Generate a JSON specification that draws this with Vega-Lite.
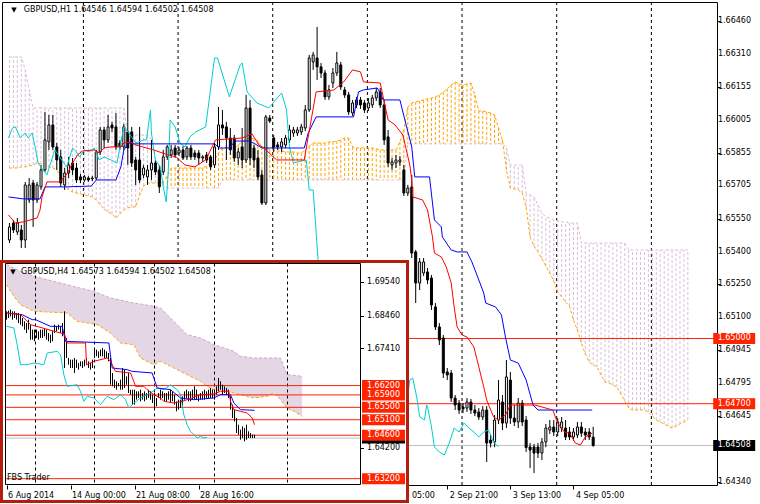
{
"$schema":"https://vega.github.io/schema/vega-lite/v6.json",
"width":715,"height":483,
"autosize":{"type":"none"},
"padding":{"left":2,"top":2,"right":43,"bottom":19},
"background":"#ffffff",
"config":{"view":{"stroke":"#000000","strokeWidth":1},"font":"DejaVu Sans","axis":{"labelFont":"DejaVu Sans","labelFontSize":8,"labelColor":"#000000","tickColor":"#000000","grid":false,"domain":false,"title":null,"labelOverlap":false,"labelFlush":false,"labelBound":false}},
"datasets":{
"m":[
{"i":1,"o":1.65453,"h":1.65531,"l":1.65439,"c":1.65513,"a":1.65784,"b":1.66295},
{"i":2,"o":1.65531,"h":1.65545,"l":1.65485,"c":1.65499,"a":1.65784,"b":1.66295},
{"i":3,"o":1.6549,"h":1.65554,"l":1.65476,"c":1.65531,"a":1.65784,"b":1.66295},
{"i":4,"o":1.65499,"h":1.65522,"l":1.65416,"c":1.65453,"a":1.65789,"b":1.66295},
{"i":5,"o":1.65453,"h":1.6572,"l":1.65416,"c":1.65706,"a":1.65789,"b":1.66235},
{"i":6,"o":1.65637,"h":1.65738,"l":1.65623,"c":1.65706,"a":1.65793,"b":1.66143},
{"i":7,"o":1.65715,"h":1.65729,"l":1.65513,"c":1.65637,"a":1.65798,"b":1.6606},
{"i":8,"o":1.65637,"h":1.6572,"l":1.65623,"c":1.65706,"a":1.65807,"b":1.6606},
{"i":9,"o":1.65697,"h":1.65798,"l":1.65683,"c":1.65775,"a":1.65803,"b":1.6606},
{"i":10,"o":1.65775,"h":1.66042,"l":1.65766,"c":1.65913,"a":1.65793,"b":1.6606},
{"i":11,"o":1.65904,"h":1.66028,"l":1.65867,"c":1.65982,"a":1.65789,"b":1.6606},
{"i":12,"o":1.65982,"h":1.66028,"l":1.65867,"c":1.65881,"a":1.65784,"b":1.6606},
{"i":13,"o":1.65881,"h":1.65899,"l":1.65775,"c":1.65821,"a":1.65775,"b":1.6606},
{"i":14,"o":1.65835,"h":1.65867,"l":1.65697,"c":1.65715,"a":1.65747,"b":1.6606},
{"i":15,"o":1.65706,"h":1.65784,"l":1.65683,"c":1.65761,"a":1.65711,"b":1.6606},
{"i":16,"o":1.65761,"h":1.65835,"l":1.65738,"c":1.65798,"a":1.65683,"b":1.6606},
{"i":17,"o":1.65807,"h":1.6583,"l":1.65752,"c":1.65775,"a":1.65674,"b":1.6606},
{"i":18,"o":1.65784,"h":1.65807,"l":1.65715,"c":1.65729,"a":1.65669,"b":1.6606},
{"i":19,"o":1.65743,"h":1.65757,"l":1.65715,"c":1.65729,"a":1.65665,"b":1.6606},
{"i":20,"o":1.65729,"h":1.65752,"l":1.6572,"c":1.65743,"a":1.6566,"b":1.6606},
{"i":21,"o":1.65738,"h":1.65747,"l":1.6572,"c":1.65729,"a":1.65655,"b":1.6606},
{"i":22,"o":1.65734,"h":1.65747,"l":1.65724,"c":1.65738,"a":1.65651,"b":1.6606},
{"i":23,"o":1.65738,"h":1.65867,"l":1.65729,"c":1.65858,"a":1.65637,"b":1.6606},
{"i":24,"o":1.65858,"h":1.65973,"l":1.65844,"c":1.65959,"a":1.65614,"b":1.6606},
{"i":25,"o":1.65959,"h":1.65973,"l":1.65876,"c":1.65913,"a":1.65596,"b":1.6606},
{"i":26,"o":1.65913,"h":1.66028,"l":1.65899,"c":1.65973,"a":1.65582,"b":1.6606},
{"i":27,"o":1.65982,"h":1.65996,"l":1.6595,"c":1.65968,"a":1.65573,"b":1.6606},
{"i":28,"o":1.65973,"h":1.66037,"l":1.65867,"c":1.65881,"a":1.65554,"b":1.6606},
{"i":29,"o":1.65899,"h":1.65913,"l":1.65867,"c":1.65881,"a":1.65573,"b":1.6606},
{"i":30,"o":1.65881,"h":1.65987,"l":1.65867,"c":1.65973,"a":1.65591,"b":1.6606},
{"i":31,"o":1.6595,"h":1.6612,"l":1.65798,"c":1.65876,"a":1.656,"b":1.65936},
{"i":32,"o":1.6595,"h":1.65973,"l":1.65789,"c":1.65807,"a":1.65605,"b":1.65936},
{"i":33,"o":1.65821,"h":1.65835,"l":1.65706,"c":1.65775,"a":1.65605,"b":1.65936},
{"i":34,"o":1.65821,"h":1.65973,"l":1.65715,"c":1.65729,"a":1.6566,"b":1.65936},
{"i":35,"o":1.65752,"h":1.65798,"l":1.65738,"c":1.65784,"a":1.65701,"b":1.65936},
{"i":36,"o":1.65743,"h":1.65798,"l":1.65706,"c":1.65775,"a":1.65715,"b":1.65936},
{"i":37,"o":1.65775,"h":1.65913,"l":1.65729,"c":1.65807,"a":1.65715,"b":1.65913},
{"i":38,"o":1.65807,"h":1.65821,"l":1.65752,"c":1.65766,"a":1.65715,"b":1.65821},
{"i":39,"o":1.65775,"h":1.65798,"l":1.65669,"c":1.65697,"a":1.65715,"b":1.65729},
{"i":40,"o":1.65766,"h":1.65867,"l":1.65752,"c":1.65835,"a":1.6572,"b":1.65701},
{"i":41,"o":1.65835,"h":1.6589,"l":1.65821,"c":1.65881,"a":1.65747,"b":1.65692},
{"i":42,"o":1.65844,"h":1.6589,"l":1.6583,"c":1.65867,"a":1.65784,"b":1.65692},
{"i":43,"o":1.65876,"h":1.6589,"l":1.6583,"c":1.65844,"a":1.65784,"b":1.65692},
{"i":44,"o":1.65853,"h":1.65881,"l":1.65839,"c":1.65867,"a":1.65784,"b":1.65692},
{"i":45,"o":1.65867,"h":1.65885,"l":1.65821,"c":1.6583,"a":1.65784,"b":1.65692},
{"i":46,"o":1.65835,"h":1.65885,"l":1.65821,"c":1.65876,"a":1.65784,"b":1.65692},
{"i":47,"o":1.65876,"h":1.6589,"l":1.65821,"c":1.65835,"a":1.65784,"b":1.65692},
{"i":48,"o":1.65853,"h":1.65867,"l":1.65821,"c":1.65835,"a":1.65784,"b":1.65692},
{"i":49,"o":1.65853,"h":1.65867,"l":1.65798,"c":1.6583,"a":1.65784,"b":1.65692},
{"i":50,"o":1.6583,"h":1.65844,"l":1.65812,"c":1.65835,"a":1.65784,"b":1.65692},
{"i":51,"o":1.65844,"h":1.65858,"l":1.65807,"c":1.65821,"a":1.65793,"b":1.65692},
{"i":52,"o":1.65835,"h":1.65844,"l":1.65775,"c":1.65789,"a":1.65807,"b":1.65692},
{"i":53,"o":1.65798,"h":1.65899,"l":1.65784,"c":1.65881,"a":1.65821,"b":1.65692},
{"i":54,"o":1.65881,"h":1.66065,"l":1.65867,"c":1.65982,"a":1.65853,"b":1.65692},
{"i":55,"o":1.65982,"h":1.66051,"l":1.65936,"c":1.65968,"a":1.65876,"b":1.65729},
{"i":56,"o":1.65973,"h":1.65996,"l":1.65821,"c":1.65922,"a":1.65881,"b":1.65729},
{"i":57,"o":1.65922,"h":1.65968,"l":1.65844,"c":1.65867,"a":1.65881,"b":1.65729},
{"i":58,"o":1.65922,"h":1.65936,"l":1.65812,"c":1.6583,"a":1.65876,"b":1.65729},
{"i":59,"o":1.6583,"h":1.65876,"l":1.65798,"c":1.65858,"a":1.6589,"b":1.65729},
{"i":60,"o":1.65881,"h":1.65968,"l":1.65784,"c":1.65821,"a":1.65904,"b":1.65729},
{"i":61,"o":1.65821,"h":1.6612,"l":1.65807,"c":1.6606,"a":1.65913,"b":1.65729},
{"i":62,"o":1.6606,"h":1.66097,"l":1.65798,"c":1.6583,"a":1.65922,"b":1.65729},
{"i":63,"o":1.65876,"h":1.6589,"l":1.65784,"c":1.65821,"a":1.65918,"b":1.65729},
{"i":64,"o":1.6583,"h":1.65867,"l":1.65729,"c":1.65743,"a":1.65908,"b":1.65729},
{"i":65,"o":1.65752,"h":1.65775,"l":1.65614,"c":1.65623,"a":1.65881,"b":1.65729},
{"i":66,"o":1.65623,"h":1.66028,"l":1.65614,"c":1.66019,"a":1.65876,"b":1.65729},
{"i":67,"o":1.66014,"h":1.66028,"l":1.65991,"c":1.66,"a":1.65867,"b":1.65729},
{"i":68,"o":1.65922,"h":1.65936,"l":1.65858,"c":1.65881,"a":1.65867,"b":1.65729},
{"i":69,"o":1.6589,"h":1.65904,"l":1.65867,"c":1.65881,"a":1.65862,"b":1.65729},
{"i":70,"o":1.65881,"h":1.65922,"l":1.65858,"c":1.65904,"a":1.65862,"b":1.65729},
{"i":71,"o":1.6589,"h":1.65936,"l":1.65876,"c":1.65922,"a":1.65858,"b":1.65729},
{"i":72,"o":1.65913,"h":1.65982,"l":1.65899,"c":1.65959,"a":1.65858,"b":1.65729},
{"i":73,"o":1.65945,"h":1.65973,"l":1.65927,"c":1.65959,"a":1.65858,"b":1.65729},
{"i":74,"o":1.65945,"h":1.65973,"l":1.65931,"c":1.65959,"a":1.65853,"b":1.65729},
{"i":75,"o":1.6595,"h":1.65987,"l":1.65936,"c":1.65973,"a":1.65853,"b":1.65729},
{"i":76,"o":1.65968,"h":1.66074,"l":1.65954,"c":1.66051,"a":1.65867,"b":1.65729},
{"i":77,"o":1.66051,"h":1.66304,"l":1.66042,"c":1.6629,"a":1.65885,"b":1.65729},
{"i":78,"o":1.66272,"h":1.66318,"l":1.66235,"c":1.66304,"a":1.65899,"b":1.65729},
{"i":79,"o":1.6629,"h":1.66433,"l":1.66189,"c":1.66249,"a":1.65899,"b":1.65729},
{"i":80,"o":1.66249,"h":1.66267,"l":1.66198,"c":1.66221,"a":1.65899,"b":1.65729},
{"i":81,"o":1.66221,"h":1.66235,"l":1.66097,"c":1.66111,"a":1.65899,"b":1.65729},
{"i":82,"o":1.66111,"h":1.66166,"l":1.66097,"c":1.66143,"a":1.65904,"b":1.65729},
{"i":83,"o":1.66175,"h":1.66244,"l":1.66152,"c":1.66221,"a":1.65904,"b":1.65729},
{"i":84,"o":1.66221,"h":1.66318,"l":1.66207,"c":1.66267,"a":1.65908,"b":1.65729},
{"i":85,"o":1.66258,"h":1.66272,"l":1.66143,"c":1.66157,"a":1.65913,"b":1.65729},
{"i":86,"o":1.66143,"h":1.66157,"l":1.66106,"c":1.6612,"a":1.65922,"b":1.65729},
{"i":87,"o":1.6612,"h":1.66134,"l":1.66028,"c":1.66042,"a":1.65922,"b":1.65729},
{"i":88,"o":1.66037,"h":1.66097,"l":1.66023,"c":1.66083,"a":1.65881,"b":1.65729},
{"i":89,"o":1.66074,"h":1.66111,"l":1.6606,"c":1.66097,"a":1.65876,"b":1.65729},
{"i":90,"o":1.66097,"h":1.66111,"l":1.66056,"c":1.66074,"a":1.65876,"b":1.65729},
{"i":91,"o":1.66083,"h":1.66097,"l":1.66037,"c":1.66051,"a":1.65876,"b":1.65729},
{"i":92,"o":1.6606,"h":1.66106,"l":1.66046,"c":1.66083,"a":1.65876,"b":1.65729},
{"i":93,"o":1.66074,"h":1.6612,"l":1.6606,"c":1.66106,"a":1.65876,"b":1.65729},
{"i":94,"o":1.66106,"h":1.66152,"l":1.66092,"c":1.66134,"a":1.65872,"b":1.65729},
{"i":95,"o":1.66134,"h":1.66152,"l":1.6606,"c":1.66074,"a":1.65867,"b":1.65729},
{"i":96,"o":1.66074,"h":1.66097,"l":1.6589,"c":1.65913,"a":1.65867,"b":1.65729},
{"i":97,"o":1.65927,"h":1.65959,"l":1.65789,"c":1.65807,"a":1.65867,"b":1.65729},
{"i":98,"o":1.65798,"h":1.6583,"l":1.65775,"c":1.65812,"a":1.65867,"b":1.65729},
{"i":99,"o":1.65807,"h":1.65844,"l":1.65784,"c":1.65821,"a":1.65867,"b":1.65729},
{"i":100,"o":1.65812,"h":1.65839,"l":1.65793,"c":1.65821,"a":1.65904,"b":1.65729},
{"i":101,"o":1.65775,"h":1.65798,"l":1.65655,"c":1.65669,"a":1.65959,"b":1.65729},
{"i":102,"o":1.65669,"h":1.65706,"l":1.65655,"c":1.65692,"a":1.66065,"b":1.65895},
{"i":103,"o":1.65697,"h":1.65752,"l":1.6537,"c":1.65393,"a":1.66083,"b":1.65895},
{"i":104,"o":1.65398,"h":1.65407,"l":1.65163,"c":1.65255,"a":1.66088,"b":1.65895},
{"i":105,"o":1.65255,"h":1.6537,"l":1.65223,"c":1.65352,"a":1.66092,"b":1.65895},
{"i":106,"o":1.65301,"h":1.6537,"l":1.65287,"c":1.65352,"a":1.66097,"b":1.65895},
{"i":107,"o":1.65306,"h":1.65324,"l":1.6525,"c":1.65269,"a":1.66102,"b":1.65895},
{"i":108,"o":1.65278,"h":1.65292,"l":1.65131,"c":1.65154,"a":1.66106,"b":1.65895},
{"i":109,"o":1.65145,"h":1.65163,"l":1.65039,"c":1.65053,"a":1.66111,"b":1.65895},
{"i":110,"o":1.65053,"h":1.65071,"l":1.6497,"c":1.64993,"a":1.6612,"b":1.65895},
{"i":111,"o":1.65002,"h":1.65016,"l":1.64818,"c":1.64841,"a":1.66134,"b":1.65895},
{"i":112,"o":1.64846,"h":1.64864,"l":1.64809,"c":1.64832,"a":1.66148,"b":1.65895},
{"i":113,"o":1.64841,"h":1.64855,"l":1.64708,"c":1.64726,"a":1.66166,"b":1.65895},
{"i":114,"o":1.64726,"h":1.6474,"l":1.64671,"c":1.64694,"a":1.6618,"b":1.65895},
{"i":115,"o":1.64703,"h":1.64717,"l":1.64653,"c":1.64671,"a":1.66171,"b":1.65895},
{"i":116,"o":1.64685,"h":1.64703,"l":1.64657,"c":1.64676,"a":1.66166,"b":1.65895},
{"i":117,"o":1.6468,"h":1.64726,"l":1.64662,"c":1.64708,"a":1.66171,"b":1.65895},
{"i":118,"o":1.64708,"h":1.64722,"l":1.64653,"c":1.64671,"a":1.66175,"b":1.65895},
{"i":119,"o":1.64671,"h":1.64694,"l":1.64643,"c":1.64657,"a":1.6612,"b":1.65895},
{"i":120,"o":1.64662,"h":1.6468,"l":1.64625,"c":1.64639,"a":1.66046,"b":1.65895},
{"i":121,"o":1.64639,"h":1.64689,"l":1.64625,"c":1.64671,"a":1.66046,"b":1.65895},
{"i":122,"o":1.64671,"h":1.64689,"l":1.64432,"c":1.64519,"a":1.66042,"b":1.65895},
{"i":123,"o":1.64533,"h":1.64556,"l":1.64499,"c":1.64519,"a":1.66037,"b":1.65895},
{"i":124,"o":1.64524,"h":1.64648,"l":1.645,"c":1.64625,"a":1.66028,"b":1.65895},
{"i":125,"o":1.64625,"h":1.64809,"l":1.64607,"c":1.64717,"a":1.65968,"b":1.65895},
{"i":126,"o":1.64708,"h":1.6474,"l":1.64579,"c":1.64611,"a":1.65913,"b":1.65895},
{"i":127,"o":1.64611,"h":1.64901,"l":1.64588,"c":1.64823,"a":1.65775,"b":1.65876},
{"i":128,"o":1.64809,"h":1.64846,"l":1.64607,"c":1.64634,"a":1.65692,"b":1.65798},
{"i":129,"o":1.64634,"h":1.64694,"l":1.64597,"c":1.64616,"a":1.65688,"b":1.65798},
{"i":130,"o":1.64616,"h":1.64726,"l":1.64588,"c":1.64703,"a":1.65683,"b":1.65798},
{"i":131,"o":1.64703,"h":1.64717,"l":1.64597,"c":1.64616,"a":1.65669,"b":1.65798},
{"i":132,"o":1.64625,"h":1.64643,"l":1.64478,"c":1.64499,"a":1.65605,"b":1.65669},
{"i":133,"o":1.64501,"h":1.64519,"l":1.64404,"c":1.64487,"a":1.65467,"b":1.6566},
{"i":134,"o":1.64501,"h":1.64515,"l":1.64381,"c":1.64473,"a":1.65425,"b":1.65651},
{"i":135,"o":1.64501,"h":1.64519,"l":1.6445,"c":1.64473,"a":1.65398,"b":1.65614},
{"i":136,"o":1.64473,"h":1.64542,"l":1.64441,"c":1.64524,"a":1.65366,"b":1.65577},
{"i":137,"o":1.64524,"h":1.64607,"l":1.645,"c":1.64588,"a":1.65333,"b":1.65559},
{"i":138,"o":1.64579,"h":1.64625,"l":1.64561,"c":1.64593,"a":1.65301,"b":1.65554},
{"i":139,"o":1.64593,"h":1.64625,"l":1.64551,"c":1.6457,"a":1.65264,"b":1.65545},
{"i":140,"o":1.6457,"h":1.64634,"l":1.64551,"c":1.64616,"a":1.65214,"b":1.65541},
{"i":141,"o":1.64588,"h":1.64639,"l":1.6457,"c":1.64616,"a":1.65191,"b":1.65536},
{"i":142,"o":1.64588,"h":1.64625,"l":1.64533,"c":1.64547,"a":1.65168,"b":1.65536},
{"i":143,"o":1.6457,"h":1.64593,"l":1.64533,"c":1.64547,"a":1.65149,"b":1.65531},
{"i":144,"o":1.64547,"h":1.64588,"l":1.64529,"c":1.6457,"a":1.65085,"b":1.65531},
{"i":145,"o":1.64556,"h":1.64616,"l":1.64542,"c":1.64593,"a":1.65039,"b":1.65531},
{"i":146,"o":1.64593,"h":1.64616,"l":1.64547,"c":1.64565,"a":1.64979,"b":1.65439},
{"i":147,"o":1.6457,"h":1.64588,"l":1.64533,"c":1.64556,"a":1.64929,"b":1.65439},
{"i":148,"o":1.6457,"h":1.64588,"l":1.64533,"c":1.64547,"a":1.64892,"b":1.65439},
{"i":149,"o":1.64546,"h":1.64594,"l":1.64502,"c":1.64508,"a":1.64878,"b":1.65439},
{"i":150,"a":1.64869,"b":1.65439},{"i":151,"a":1.64832,"b":1.65439},{"i":152,"a":1.648,"b":1.65439},{"i":153,"a":1.64795,"b":1.65439},{"i":154,"a":1.64786,"b":1.65439},{"i":155,"a":1.64777,"b":1.65439},{"i":156,"a":1.64745,"b":1.65439},{"i":157,"a":1.64712,"b":1.65439},{"i":158,"a":1.6468,"b":1.65407},{"i":159,"a":1.64671,"b":1.65407},{"i":160,"a":1.64671,"b":1.65407},{"i":161,"a":1.64671,"b":1.65407},{"i":162,"a":1.64671,"b":1.65407},{"i":163,"a":1.64662,"b":1.65407},{"i":164,"a":1.64643,"b":1.65407},{"i":165,"a":1.64625,"b":1.65407},{"i":166,"a":1.64616,"b":1.65407},{"i":167,"a":1.64607,"b":1.65407},{"i":168,"a":1.64597,"b":1.65407},{"i":169,"a":1.64588,"b":1.65407},{"i":170,"a":1.64597,"b":1.65407},{"i":171,"a":1.64607,"b":1.65407},{"i":172,"a":1.64616,"b":1.65407},{"i":173,"a":1.64625,"b":1.65407}
],
"ml":[
{"s":"c","i":0.75,"p":1.65922},{"s":"c","i":1.75,"p":1.65968},{"s":"c","i":2.5,"p":1.65973},{"s":"c","i":3.75,"p":1.65922},{"s":"c","i":5,"p":1.65945},{"s":"c","i":5.75,"p":1.65922},{"s":"c","i":6.75,"p":1.65945},{"s":"c","i":7.5,"p":1.65881},{"s":"c","i":8.25,"p":1.65807},{"s":"c","i":9.5,"p":1.65775},{"s":"c","i":10.5,"p":1.65752},{"s":"c","i":12.5,"p":1.65867},{"s":"c","i":14.25,"p":1.65821},{"s":"c","i":15.5,"p":1.65789},{"s":"c","i":17,"p":1.65876},{"s":"c","i":18,"p":1.65858},{"s":"c","i":18.75,"p":1.65835},{"s":"c","i":20,"p":1.65867},{"s":"c","i":21.25,"p":1.65858},{"s":"c","i":22.5,"p":1.65876},{"s":"c","i":23.75,"p":1.65821},{"s":"c","i":25,"p":1.65835},{"s":"c","i":26.75,"p":1.65821},{"s":"c","i":28.25,"p":1.65807},{"s":"c","i":30,"p":1.65973},{"s":"c","i":31.25,"p":1.65945},{"s":"c","i":33,"p":1.65899},{"s":"c","i":35,"p":1.65913},{"s":"c","i":35.75,"p":1.65913},{"s":"c","i":36.75,"p":1.66051},{"s":"c","i":37,"p":1.65945},{"s":"c","i":38,"p":1.65821},{"s":"c","i":39.25,"p":1.65789},{"s":"c","i":40,"p":1.65697},{"s":"c","i":40.75,"p":1.65628},{"s":"c","i":41.25,"p":1.65761},{"s":"c","i":41.75,"p":1.66005},{"s":"c","i":43,"p":1.65973},{"s":"c","i":44.25,"p":1.65899},{"s":"c","i":45.5,"p":1.65881},{"s":"c","i":46.75,"p":1.65927},{"s":"c","i":48.25,"p":1.6595},{"s":"c","i":50.75,"p":1.65973},{"s":"c","i":53,"p":1.6629},{"s":"c","i":53.75,"p":1.6629},{"s":"c","i":56.75,"p":1.66111},{"s":"c","i":59.5,"p":1.66258},{"s":"c","i":60,"p":1.66267},{"s":"c","i":61.25,"p":1.66134},{"s":"c","i":63.75,"p":1.66083},{"s":"c","i":66.75,"p":1.6606},{"s":"c","i":70,"p":1.66129},{"s":"c","i":71.25,"p":1.66051},{"s":"c","i":72,"p":1.65881},{"s":"c","i":73,"p":1.65807},{"s":"c","i":76.25,"p":1.65821},{"s":"c","i":77,"p":1.65683},{"s":"c","i":78,"p":1.65683},{"s":"c","i":79.25,"p":1.65361},{"s":"c","i":82.5,"p":1.65039},{"s":"c","i":86.25,"p":1.64855},{"s":"c","i":90,"p":1.64809},{"s":"c","i":93.75,"p":1.64717},{"s":"c","i":97.5,"p":1.64694},{"s":"c","i":100,"p":1.64648},{"s":"c","i":101.25,"p":1.64639},{"s":"c","i":102.5,"p":1.64809},{"s":"c","i":103.25,"p":1.64818},{"s":"c","i":104.25,"p":1.64731},{"s":"c","i":105,"p":1.64639},{"s":"c","i":106.25,"p":1.64625},{"s":"c","i":106.75,"p":1.64694},{"s":"c","i":107,"p":1.64685},{"s":"c","i":108,"p":1.64593},{"s":"c","i":108.75,"p":1.64501},{"s":"c","i":110,"p":1.64478},{"s":"c","i":111.25,"p":1.64464},{"s":"c","i":112.5,"p":1.64519},{"s":"c","i":113.75,"p":1.64588},{"s":"c","i":115,"p":1.6457},{"s":"c","i":116.25,"p":1.64611},{"s":"c","i":117.5,"p":1.64588},{"s":"c","i":118.75,"p":1.6457},{"s":"c","i":120,"p":1.64547},{"s":"c","i":121.25,"p":1.6457},{"s":"c","i":122.5,"p":1.64579},{"s":"c","i":123.75,"p":1.64524},{"s":"c","i":125,"p":1.64501},
{"s":"k","i":0.75,"p":1.65651},{"s":"k","i":4.5,"p":1.65642},{"s":"k","i":8.75,"p":1.65642},{"s":"k","i":10,"p":1.65697},{"s":"k","i":15,"p":1.65697},{"s":"k","i":21.75,"p":1.65701},{"s":"k","i":23,"p":1.65729},{"s":"k","i":28,"p":1.65729},{"s":"k","i":29.25,"p":1.65789},{"s":"k","i":30,"p":1.65867},{"s":"k","i":31.25,"p":1.65899},{"s":"k","i":32.5,"p":1.65895},{"s":"k","i":53,"p":1.65895},{"s":"k","i":54.25,"p":1.65876},{"s":"k","i":56.75,"p":1.65876},{"s":"k","i":58.25,"p":1.65908},{"s":"k","i":61.75,"p":1.65908},{"s":"k","i":63.25,"p":1.65895},{"s":"k","i":65,"p":1.65876},{"s":"k","i":75.75,"p":1.65876},{"s":"k","i":76.75,"p":1.65945},{"s":"k","i":78.75,"p":1.66019},{"s":"k","i":88.25,"p":1.66019},{"s":"k","i":89.5,"p":1.66134},{"s":"k","i":90.75,"p":1.66143},{"s":"k","i":94.25,"p":1.66152},{"s":"k","i":95,"p":1.66129},{"s":"k","i":95.75,"p":1.66097},{"s":"k","i":100,"p":1.66097},{"s":"k","i":101.25,"p":1.66005},{"s":"k","i":103,"p":1.65881},{"s":"k","i":103.75,"p":1.65743},{"s":"k","i":107.5,"p":1.65743},{"s":"k","i":108.75,"p":1.65545},{"s":"k","i":110.5,"p":1.65513},{"s":"k","i":110.75,"p":1.65467},{"s":"k","i":113,"p":1.65407},{"s":"k","i":114.5,"p":1.65398},{"s":"k","i":117,"p":1.65398},{"s":"k","i":118.25,"p":1.65352},{"s":"k","i":120,"p":1.65269},{"s":"k","i":121.25,"p":1.65209},{"s":"k","i":121.75,"p":1.65163},{"s":"k","i":124.25,"p":1.65145},{"s":"k","i":125.75,"p":1.65108},{"s":"k","i":126.75,"p":1.65007},{"s":"k","i":128,"p":1.64901},{"s":"k","i":130,"p":1.64887},{"s":"k","i":132,"p":1.64809},{"s":"k","i":133.75,"p":1.64694},{"s":"k","i":135,"p":1.64671},{"s":"k","i":148.75,"p":1.64671},
{"s":"t","i":0.75,"p":1.65568},{"s":"t","i":2.5,"p":1.65531},{"s":"t","i":4.5,"p":1.65536},{"s":"t","i":8,"p":1.65554},{"s":"t","i":8.75,"p":1.65591},{"s":"t","i":9.25,"p":1.65651},{"s":"t","i":10.5,"p":1.6572},{"s":"t","i":13.75,"p":1.6572},{"s":"t","i":15.75,"p":1.65761},{"s":"t","i":17,"p":1.65807},{"s":"t","i":18.25,"p":1.65844},{"s":"t","i":19.5,"p":1.65862},{"s":"t","i":22.5,"p":1.65867},{"s":"t","i":23.75,"p":1.65853},{"s":"t","i":25,"p":1.65876},{"s":"t","i":26.75,"p":1.65881},{"s":"t","i":29.25,"p":1.65881},{"s":"t","i":30,"p":1.65899},{"s":"t","i":31.75,"p":1.65904},{"s":"t","i":33,"p":1.6589},{"s":"t","i":37.5,"p":1.65867},{"s":"t","i":41.25,"p":1.65844},{"s":"t","i":43.25,"p":1.65835},{"s":"t","i":45.5,"p":1.65798},{"s":"t","i":48,"p":1.65789},{"s":"t","i":50.75,"p":1.65821},{"s":"t","i":53.25,"p":1.65913},{"s":"t","i":60,"p":1.65922},{"s":"t","i":62.5,"p":1.65941},{"s":"t","i":64.25,"p":1.6589},{"s":"t","i":65.5,"p":1.65876},{"s":"t","i":68.75,"p":1.65821},{"s":"t","i":75.75,"p":1.65821},{"s":"t","i":76.25,"p":1.65876},{"s":"t","i":78.75,"p":1.66134},{"s":"t","i":83.25,"p":1.66143},{"s":"t","i":85.75,"p":1.6618},{"s":"t","i":88,"p":1.66235},{"s":"t","i":90,"p":1.66226},{"s":"t","i":90.75,"p":1.6618},{"s":"t","i":95,"p":1.66175},{"s":"t","i":95.75,"p":1.66111},{"s":"t","i":97,"p":1.66005},{"s":"t","i":98.75,"p":1.65982},{"s":"t","i":100.75,"p":1.65936},{"s":"t","i":102.5,"p":1.65798},{"s":"t","i":103,"p":1.65729},{"s":"t","i":103.25,"p":1.65651},{"s":"t","i":105.75,"p":1.65637},{"s":"t","i":107,"p":1.65591},{"s":"t","i":108.25,"p":1.65467},{"s":"t","i":108.75,"p":1.65393},{"s":"t","i":110.5,"p":1.65375},{"s":"t","i":111.75,"p":1.65329},{"s":"t","i":113,"p":1.65255},{"s":"t","i":113.75,"p":1.65145},{"s":"t","i":114.5,"p":1.65053},{"s":"t","i":115.75,"p":1.65016},{"s":"t","i":117,"p":1.65007},{"s":"t","i":118.75,"p":1.64961},{"s":"t","i":120,"p":1.64869},{"s":"t","i":121.25,"p":1.64777},{"s":"t","i":122,"p":1.64717},{"s":"t","i":123.75,"p":1.64639},{"s":"t","i":125,"p":1.64625},{"s":"t","i":126.75,"p":1.64648},{"s":"t","i":128,"p":1.64694},{"s":"t","i":134.25,"p":1.64694},{"s":"t","i":138.75,"p":1.64671},{"s":"t","i":140,"p":1.64611},{"s":"t","i":141.75,"p":1.6457},{"s":"t","i":143,"p":1.64565},{"s":"t","i":144.5,"p":1.64519},{"s":"t","i":145.75,"p":1.6451},{"s":"t","i":147,"p":1.64547},{"s":"t","i":148.75,"p":1.64565}
],
"ic":[
{"j":3,"h":1.68595,"l":1.68326},{"j":4,"h":1.68616,"l":1.6838},{"j":5,"h":1.68648,"l":1.68433},{"j":6,"h":1.68595,"l":1.68326},{"j":7,"h":1.68595,"l":1.6838},{"j":8,"h":1.68541,"l":1.68326},{"j":9,"h":1.68541,"l":1.68218},{"j":10,"h":1.68487,"l":1.68165},{"j":11,"h":1.6838,"l":1.68111},{"j":12,"h":1.68272,"l":1.68004},{"j":13,"h":1.68218,"l":1.67896},{"j":14,"h":1.68326,"l":1.68004},{"j":15,"h":1.68165,"l":1.67681},{"j":16,"h":1.68004,"l":1.67681},{"j":17,"h":1.68004,"l":1.67627},{"j":18,"h":1.68004,"l":1.67735},{"j":19,"h":1.6795,"l":1.67681},{"j":20,"h":1.68004,"l":1.67735},{"j":21,"h":1.68004,"l":1.67735},{"j":22,"h":1.68057,"l":1.67789},{"j":23,"h":1.68004,"l":1.67681},{"j":24,"h":1.67896,"l":1.67627},{"j":25,"h":1.67842,"l":1.67574},{"j":26,"h":1.6795,"l":1.67627},{"j":27,"h":1.68165,"l":1.67896},{"j":28,"h":1.68111,"l":1.6795},{"j":29,"h":1.68165,"l":1.68004},{"j":30,"h":1.68111,"l":1.67896},{"j":31,"h":1.68218,"l":1.67789},{"j":32,"h":1.68595,"l":1.66768},{"j":33,"h":1.67735,"l":1.6709},{"j":34,"h":1.6709,"l":1.66875},{"j":35,"h":1.67036,"l":1.66768},{"j":36,"h":1.67036,"l":1.66768},{"j":37,"h":1.6709,"l":1.66607},{"j":38,"h":1.67036,"l":1.66768},{"j":39,"h":1.66929,"l":1.66714},{"j":40,"h":1.66983,"l":1.66822},{"j":41,"h":1.66983,"l":1.66768},{"j":42,"h":1.67036,"l":1.66822},{"j":43,"h":1.6709,"l":1.66875},{"j":44,"h":1.66983,"l":1.66768},{"j":45,"h":1.66929,"l":1.66714},{"j":46,"h":1.67036,"l":1.66768},{"j":47,"h":1.67413,"l":1.6709},{"j":48,"h":1.67359,"l":1.67144},{"j":49,"h":1.67305,"l":1.6709},{"j":50,"h":1.67359,"l":1.67144},{"j":51,"h":1.67413,"l":1.67144},{"j":52,"h":1.67359,"l":1.6709},{"j":53,"h":1.67305,"l":1.6709},{"j":54,"h":1.67251,"l":1.66983},{"j":55,"h":1.6709,"l":1.6623},{"j":56,"h":1.66607,"l":1.66177},{"j":57,"h":1.66392,"l":1.66123},{"j":58,"h":1.66338,"l":1.66069},{"j":59,"h":1.66284,"l":1.66177},{"j":60,"h":1.66392,"l":1.66069},{"j":61,"h":1.66768,"l":1.66069},{"j":62,"h":1.66714,"l":1.66123},{"j":63,"h":1.66499,"l":1.6623},{"j":64,"h":1.66607,"l":1.65962},{"j":65,"h":1.66069,"l":1.65908},{"j":66,"h":1.66069,"l":1.65586},{"j":67,"h":1.66069,"l":1.65586},{"j":68,"h":1.66016,"l":1.65747},{"j":69,"h":1.66016,"l":1.65801},{"j":70,"h":1.66069,"l":1.65693},{"j":71,"h":1.65962,"l":1.65747},{"j":72,"h":1.66016,"l":1.65693},{"j":73,"h":1.65962,"l":1.65747},{"j":74,"h":1.66069,"l":1.65801},{"j":75,"h":1.66016,"l":1.65747},{"j":76,"h":1.65908,"l":1.65639},{"j":77,"h":1.65962,"l":1.65425},{"j":78,"h":1.65801,"l":1.65532},{"j":79,"h":1.65962,"l":1.65801},{"j":80,"h":1.66069,"l":1.65747},{"j":81,"h":1.66016,"l":1.65801},{"j":82,"h":1.65962,"l":1.65693},{"j":83,"h":1.65962,"l":1.65693},{"j":84,"h":1.66016,"l":1.65747},{"j":85,"h":1.66069,"l":1.65639},{"j":86,"h":1.66016,"l":1.65693},{"j":87,"h":1.65908,"l":1.65586},{"j":88,"h":1.65693,"l":1.65371},{"j":89,"h":1.65747,"l":1.65425},{"j":90,"h":1.65747,"l":1.65478},{"j":91,"h":1.65854,"l":1.65478},{"j":92,"h":1.66016,"l":1.65747},{"j":93,"h":1.66069,"l":1.65801},{"j":94,"h":1.66016,"l":1.65693},{"j":95,"h":1.66016,"l":1.65693},{"j":96,"h":1.66069,"l":1.65747},{"j":97,"h":1.66177,"l":1.65747},{"j":98,"h":1.66069,"l":1.65747},{"j":99,"h":1.65908,"l":1.65693},{"j":100,"h":1.65962,"l":1.65747},{"j":101,"h":1.66016,"l":1.65747},{"j":102,"h":1.66069,"l":1.65747},{"j":103,"h":1.66016,"l":1.65801},{"j":104,"h":1.66069,"l":1.65801},{"j":105,"h":1.66123,"l":1.65801},{"j":106,"h":1.66069,"l":1.65801},{"j":107,"h":1.66016,"l":1.65747},{"j":108,"h":1.66177,"l":1.65908},{"j":109,"h":1.66445,"l":1.66016},{"j":110,"h":1.66338,"l":1.66069},{"j":111,"h":1.6623,"l":1.65908},{"j":112,"h":1.66177,"l":1.65962},{"j":113,"h":1.66123,"l":1.65908},{"j":114,"h":1.66069,"l":1.65801},{"j":115,"h":1.65854,"l":1.65425},{"j":116,"h":1.65586,"l":1.65156},{"j":117,"h":1.65425,"l":1.65048},{"j":118,"h":1.65156,"l":1.64672},{"j":119,"h":1.64941,"l":1.64619},{"j":120,"h":1.6478,"l":1.64457},{"j":121,"h":1.64887,"l":1.64511},{"j":122,"h":1.64833,"l":1.64404},{"j":123,"h":1.64941,"l":1.64457},{"j":124,"h":1.64726,"l":1.64511},{"j":125,"h":1.64672,"l":1.64511},{"j":126,"h":1.64619,"l":1.64511},{"j":127,"h":1.64619,"l":1.64511}
],
"il":[
{"s":"c","j":3,"p":1.68111},{"s":"c","j":6.67,"p":1.68057},{"s":"c","j":8.33,"p":1.6752},{"s":"c","j":10,"p":1.66875},{"s":"c","j":13.33,"p":1.66875},{"s":"c","j":16.67,"p":1.66929},{"s":"c","j":21.67,"p":1.66875},{"s":"c","j":23.33,"p":1.67251},{"s":"c","j":28.33,"p":1.67305},{"s":"c","j":30,"p":1.67198},{"s":"c","j":31.67,"p":1.66553},{"s":"c","j":33.33,"p":1.66177},{"s":"c","j":38.33,"p":1.6623},{"s":"c","j":40,"p":1.66016},{"s":"c","j":41.67,"p":1.65693},{"s":"c","j":43.33,"p":1.65854},{"s":"c","j":46.67,"p":1.65801},{"s":"c","j":50,"p":1.65586},{"s":"c","j":53.33,"p":1.65854},{"s":"c","j":56.67,"p":1.65747},{"s":"c","j":60,"p":1.65908},{"s":"c","j":62.5,"p":1.65747},{"s":"c","j":64.17,"p":1.65478},{"s":"c","j":65.83,"p":1.65586},{"s":"c","j":70,"p":1.65801},{"s":"c","j":75,"p":1.65962},{"s":"c","j":78.33,"p":1.66123},{"s":"c","j":81.67,"p":1.66069},{"s":"c","j":85,"p":1.6623},{"s":"c","j":88.33,"p":1.66069},{"s":"c","j":90,"p":1.65908},{"s":"c","j":91.67,"p":1.65263},{"s":"c","j":93.33,"p":1.64941},{"s":"c","j":95,"p":1.64726},{"s":"c","j":98.33,"p":1.64511},{"s":"c","j":100,"p":1.64565},{"s":"c","j":101.67,"p":1.64511},{"s":"c","j":103.33,"p":1.64533},
{"s":"k","j":3,"p":1.68541},{"s":"k","j":10.83,"p":1.68487},{"s":"k","j":15.83,"p":1.68326},{"s":"k","j":17.5,"p":1.68326},{"s":"k","j":25,"p":1.68111},{"s":"k","j":30.83,"p":1.68111},{"s":"k","j":32.5,"p":1.67627},{"s":"k","j":54.17,"p":1.67574},{"s":"k","j":55.83,"p":1.66768},{"s":"k","j":63.33,"p":1.66714},{"s":"k","j":65.83,"p":1.6666},{"s":"k","j":75.83,"p":1.66607},{"s":"k","j":78.33,"p":1.66123},{"s":"k","j":85,"p":1.66069},{"s":"k","j":90,"p":1.65801},{"s":"k","j":96.67,"p":1.65747},{"s":"k","j":106.67,"p":1.65801},{"s":"k","j":110,"p":1.65908},{"s":"k","j":115,"p":1.65908},{"s":"k","j":116.67,"p":1.65639},{"s":"k","j":120,"p":1.65425},{"s":"k","j":127,"p":1.65403},
{"s":"t","j":3,"p":1.68541},{"s":"t","j":10,"p":1.68487},{"s":"t","j":15,"p":1.68165},{"s":"t","j":30,"p":1.67896},{"s":"t","j":32,"p":1.67864},{"s":"t","j":33.33,"p":1.67574},{"s":"t","j":42.5,"p":1.67574},{"s":"t","j":43,"p":1.66875},{"s":"t","j":46.67,"p":1.66983},{"s":"t","j":53.33,"p":1.6709},{"s":"t","j":55,"p":1.66983},{"s":"t","j":57.5,"p":1.6666},{"s":"t","j":65,"p":1.66607},{"s":"t","j":66.67,"p":1.66338},{"s":"t","j":67.5,"p":1.66177},{"s":"t","j":71.67,"p":1.66177},{"s":"t","j":73.33,"p":1.66069},{"s":"t","j":76.67,"p":1.65908},{"s":"t","j":80,"p":1.65801},{"s":"t","j":81.67,"p":1.65693},{"s":"t","j":86.67,"p":1.65639},{"s":"t","j":90.83,"p":1.65693},{"s":"t","j":93.33,"p":1.65747},{"s":"t","j":100,"p":1.65908},{"s":"t","j":106.67,"p":1.6593},{"s":"t","j":110,"p":1.66016},{"s":"t","j":114.17,"p":1.66016},{"s":"t","j":115,"p":1.65693},{"s":"t","j":116.67,"p":1.65425},{"s":"t","j":120,"p":1.65371},{"s":"t","j":123.33,"p":1.65317},{"s":"t","j":125.83,"p":1.65156},{"s":"t","j":127,"p":1.64941}
],
"icl":[
{"j":3,"a":1.69454,"b":1.70099},{"j":6.67,"a":1.69078,"b":1.69992},{"j":10,"a":1.6881,"b":1.69884},{"j":16.67,"a":1.68595,"b":1.69723},{"j":26.67,"a":1.68562,"b":1.69562},{"j":33.33,"a":1.68541,"b":1.69454},{"j":38.33,"a":1.68272,"b":1.69368},{"j":46.67,"a":1.68186,"b":1.69239},{"j":48.33,"a":1.68165,"b":1.69196},{"j":55,"a":1.67896,"b":1.69024},{"j":60,"a":1.67574,"b":1.6896},{"j":66.67,"a":1.6752,"b":1.68863},{"j":70,"a":1.6709,"b":1.68831},{"j":76.67,"a":1.66875,"b":1.68756},{"j":80,"a":1.66983,"b":1.68702},{"j":86.67,"a":1.66768,"b":1.68272},{"j":93.33,"a":1.66553,"b":1.67842},{"j":100,"a":1.66338,"b":1.67735},{"j":103.33,"a":1.66177,"b":1.67627},{"j":106.67,"a":1.66069,"b":1.6752},{"j":113.33,"a":1.66016,"b":1.6738},{"j":116.67,"a":1.65962,"b":1.67305},{"j":120,"a":1.65908,"b":1.67144},{"j":126.67,"a":1.65801,"b":1.6709},{"j":133.33,"a":1.65854,"b":1.6709},{"j":136.67,"a":1.65962,"b":1.6709},{"j":140,"a":1.65747,"b":1.6709},{"j":143.33,"a":1.65478,"b":1.66553},{"j":146.67,"a":1.65371,"b":1.66531},{"j":150.83,"a":1.6521,"b":1.66499}
],
"yl":[
{"p":1.6646,"t":"1.66460"},{"p":1.6631,"t":"1.66310"},{"p":1.66155,"t":"1.66155"},{"p":1.66005,"t":"1.66005"},{"p":1.65855,"t":"1.65855"},{"p":1.65705,"t":"1.65705"},{"p":1.6555,"t":"1.65550"},{"p":1.654,"t":"1.65400"},{"p":1.6525,"t":"1.65250"},{"p":1.651,"t":"1.65100"},{"p":1.64945,"t":"1.64945"},{"p":1.64795,"t":"1.64795"},{"p":1.64645,"t":"1.64645"},{"p":1.6434,"t":"1.64340"}
]
},
"resolve":{"scale":{"x":"independent","y":"independent"}},
"layer":[
{"layer":[
{"data":{"name":"m"},"mark":{"type":"rule","color":"#000000","strokeWidth":1},"encoding":{"x":{"field":"i","type":"quantitative","scale":{"domain":[0.375,179.125],"nice":false,"zero":false},"axis":{"orient":"bottom","values":[96,112,128,144],"labelExpr":"datum.value==96?'2 Sep 05:00':datum.value==112?'2 Sep 21:00':datum.value==128?'3 Sep 13:00':'4 Sep 05:00'","labelAlign":"left","labelOffset":2,"labelPadding":2,"tickSize":4,"labelFlush":false,"labelOverlap":false,"title":null,"grid":false,"domain":false}},"y":{"field":"l","type":"quantitative","scale":{"domain":[1.643262,1.665474],"nice":false,"zero":false},"axis":{"orient":"right","values":[1.6646,1.6631,1.66155,1.66005,1.65855,1.65705,1.6555,1.654,1.6525,1.651,1.64945,1.64795,1.64645,1.6449,1.6434],"labels":false,"tickSize":3,"title":null,"grid":false,"domain":false}},"y2":{"field":"h"},"opacity":{"value":0}}},
{"data":{"values":[{"d":19.75},{"d":43.75},{"d":67.75},{"d":91.75},{"d":115.75},{"d":139.75},{"d":163.75}]},"mark":{"type":"rule","color":"#000000","strokeDash":[3,3],"strokeWidth":1},"encoding":{"x":{"field":"d","type":"quantitative","scale":{"domain":[0.375,179.125],"nice":false,"zero":false}}}},
{"data":{"name":"m"},"mark":{"type":"rule","strokeDash":[3,2],"strokeWidth":1},"encoding":{"x":{"field":"i","type":"quantitative","scale":{"domain":[0.375,179.125],"nice":false,"zero":false}},"y":{"field":"a","type":"quantitative","scale":{"domain":[1.643262,1.665474],"nice":false,"zero":false}},"y2":{"field":"b"},"color":{"condition":{"test":"datum.a>=datum.b","value":"#FFA500"},"value":"#D8BFD8"}}},
{"data":{"name":"m"},"mark":{"type":"line","color":"#FFA500","strokeDash":[3,2],"strokeWidth":1},"encoding":{"x":{"field":"i","type":"quantitative","scale":{"domain":[0.375,179.125],"nice":false,"zero":false}},"y":{"field":"a","type":"quantitative","scale":{"domain":[1.643262,1.665474],"nice":false,"zero":false}}}},
{"data":{"name":"m"},"mark":{"type":"line","color":"#D8BFD8","strokeDash":[3,2],"strokeWidth":1},"encoding":{"x":{"field":"i","type":"quantitative","scale":{"domain":[0.375,179.125],"nice":false,"zero":false}},"y":{"field":"b","type":"quantitative","scale":{"domain":[1.643262,1.665474],"nice":false,"zero":false}}}},
{"data":{"values":[{"p":1.65,"k":"r"},{"p":1.647,"k":"r"},{"p":1.64508,"k":"g"}]},"mark":{"type":"rule","strokeWidth":1},"encoding":{"y":{"field":"p","type":"quantitative","scale":{"domain":[1.643262,1.665474],"nice":false,"zero":false}},"color":{"condition":{"test":"datum.k=='r'","value":"#FF2000"},"value":"#C0C0C0"}}},
{"data":{"name":"m"},"mark":{"type":"rule","color":"#000000","strokeWidth":1},"encoding":{"x":{"field":"i","type":"quantitative","scale":{"domain":[0.375,179.125],"nice":false,"zero":false}},"y":{"field":"l","type":"quantitative","scale":{"domain":[1.643262,1.665474],"nice":false,"zero":false}},"y2":{"field":"h"}}},
{"data":{"name":"m"},"mark":{"type":"bar","width":2,"stroke":"#000000","strokeWidth":1},"encoding":{"x":{"field":"i","type":"quantitative","scale":{"domain":[0.375,179.125],"nice":false,"zero":false}},"y":{"field":"o","type":"quantitative","scale":{"domain":[1.643262,1.665474],"nice":false,"zero":false}},"y2":{"field":"c"},"fill":{"condition":{"test":"datum.c>=datum.o","value":"#ffffff"},"value":"#000000"}}},
{"data":{"name":"ml"},"mark":{"type":"line","strokeWidth":1},"encoding":{"x":{"field":"i","type":"quantitative","scale":{"domain":[0.375,179.125],"nice":false,"zero":false}},"y":{"field":"p","type":"quantitative","scale":{"domain":[1.643262,1.665474],"nice":false,"zero":false}},"color":{"field":"s","type":"nominal","scale":{"domain":["c","k","t"],"range":["#00CED1","#0000FF","#FF0000"]},"legend":null}}},
{"data":{"name":"yl"},"mark":{"type":"text","align":"left","baseline":"middle","color":"#000000","font":"DejaVu Sans","fontSize":8},"encoding":{"x":{"datum":180.625,"type":"quantitative","scale":{"domain":[0.375,179.125],"nice":false,"zero":false}},"y":{"field":"p","type":"quantitative","scale":{"domain":[1.643262,1.665474],"nice":false,"zero":false}},"text":{"field":"t"}}},
{"data":{"values":[{"p":1.65,"t":"1.65000","k":"r"},{"p":1.647,"t":"1.64700","k":"r"},{"p":1.64508,"t":"1.64508","k":"b"}]},"mark":{"type":"tick","orient":"horizontal","size":42,"thickness":11,"opacity":1},"encoding":{"x":{"datum":184.75,"type":"quantitative","scale":{"domain":[0.375,179.125],"nice":false,"zero":false}},"y":{"field":"p","type":"quantitative","scale":{"domain":[1.643262,1.665474],"nice":false,"zero":false}},"color":{"condition":{"test":"datum.k=='r'","value":"#FF2400"},"value":"#000000"}}},
{"data":{"values":[{"p":1.65,"t":"1.65000"},{"p":1.647,"t":"1.64700"},{"p":1.64508,"t":"1.64508"}]},"mark":{"type":"text","align":"center","baseline":"middle","color":"#ffffff","font":"DejaVu Sans","fontSize":8},"encoding":{"x":{"datum":184.75,"type":"quantitative","scale":{"domain":[0.375,179.125],"nice":false,"zero":false}},"y":{"field":"p","type":"quantitative","scale":{"domain":[1.643262,1.665474],"nice":false,"zero":false}},"text":{"field":"t"}}},
{"data":{"values":[{"t":"▼"}]},"mark":{"type":"text","align":"center","baseline":"middle","color":"#000000","font":"DejaVu Sans","fontSize":7},"encoding":{"x":{"datum":2.125,"type":"quantitative","scale":{"domain":[0.375,179.125],"nice":false,"zero":false}},"y":{"datum":1.665106,"type":"quantitative","scale":{"domain":[1.643262,1.665474],"nice":false,"zero":false}},"text":{"field":"t"}}},
{"data":{"values":[{"t":"GBPUSD,H1  1.64546 1.64594 1.64502 1.64508"}]},"mark":{"type":"text","align":"left","baseline":"middle","color":"#000000","font":"DejaVu Sans","fontSize":8},"encoding":{"x":{"datum":4.625,"type":"quantitative","scale":{"domain":[0.375,179.125],"nice":false,"zero":false}},"y":{"datum":1.665106,"type":"quantitative","scale":{"domain":[1.643262,1.665474],"nice":false,"zero":false}},"text":{"field":"t"}}}
]},
{"layer":[
{"data":{"name":"ic"},"mark":{"type":"rule","color":"#000000","strokeWidth":1},"encoding":{"x":{"field":"j","type":"quantitative","scale":{"domain":[0.75,358.25],"nice":false,"zero":false},"axis":{"orient":"bottom","values":[3,35,67,99],"labelExpr":"datum.value==3?'6 Aug 2014':datum.value==35?'14 Aug 00:00':datum.value==67?'21 Aug 08:00':'28 Aug 16:00'","labelAlign":"left","labelOffset":1,"labelPadding":2,"tickSize":4,"labelFlush":false,"labelOverlap":false,"zindex":1,"title":null,"grid":false,"domain":false}},"y":{"field":"l","type":"quantitative","scale":{"domain":[1.629958,1.785664],"nice":false,"zero":false},"axis":{"orient":"right","offset":-356.5,"values":[1.6954,1.6846,1.6741,1.642],"format":".5f","tickSize":3,"labelPadding":3,"labelBaseline":"middle","labelFlush":false,"labelOverlap":false,"zindex":1,"title":null,"grid":false,"domain":false}},"y2":{"field":"h"},"opacity":{"value":0}}},
{"data":{"values":[{"z":1}]},"mark":{"type":"rect","fill":"#ffffff","stroke":"#B31E0E","strokeWidth":3},"encoding":{"x":{"datum":0.5,"type":"quantitative","scale":{"domain":[0.75,358.25],"nice":false,"zero":false}},"x2":{"datum":203.5},"y":{"datum":1.70201,"type":"quantitative","scale":{"domain":[1.629958,1.785664],"nice":false,"zero":false}},"y2":{"datum":1.62464}}},
{"data":{"name":"icl"},"mark":{"type":"area","color":"#D0B4D0","opacity":0.55},"encoding":{"x":{"field":"j","type":"quantitative","scale":{"domain":[0.75,358.25],"nice":false,"zero":false}},"y":{"field":"a","type":"quantitative","scale":{"domain":[1.629958,1.785664],"nice":false,"zero":false}},"y2":{"field":"b"}}},
{"data":{"name":"icl"},"mark":{"type":"line","color":"#FFA500","strokeDash":[3,2],"strokeWidth":1},"encoding":{"x":{"field":"j","type":"quantitative","scale":{"domain":[0.75,358.25],"nice":false,"zero":false}},"y":{"field":"a","type":"quantitative","scale":{"domain":[1.629958,1.785664],"nice":false,"zero":false}}}},
{"data":{"name":"icl"},"mark":{"type":"line","color":"#C8A8C8","strokeDash":[3,2],"strokeWidth":1},"encoding":{"x":{"field":"j","type":"quantitative","scale":{"domain":[0.75,358.25],"nice":false,"zero":false}},"y":{"field":"b","type":"quantitative","scale":{"domain":[1.629958,1.785664],"nice":false,"zero":false}}}},
{"data":{"values":[{"d":17.5},{"d":47},{"d":77},{"d":107},{"d":143.5}]},"mark":{"type":"rule","color":"#000000","strokeDash":[3,3],"strokeWidth":1},"encoding":{"x":{"field":"d","type":"quantitative","scale":{"domain":[0.75,358.25],"nice":false,"zero":false}},"y":{"datum":1.70136,"type":"quantitative","scale":{"domain":[1.629958,1.785664],"nice":false,"zero":false}},"y2":{"datum":1.63012}}},
{"data":{"values":[{"p":1.64508,"k":"g"},{"p":1.662,"k":"r"},{"p":1.659,"k":"r"},{"p":1.655,"k":"r"},{"p":1.651,"k":"r"},{"p":1.646,"k":"r"},{"p":1.632,"k":"r"}]},"mark":{"type":"rule","strokeWidth":1},"encoding":{"x":{"datum":2.5,"type":"quantitative","scale":{"domain":[0.75,358.25],"nice":false,"zero":false}},"x2":{"datum":180},"y":{"field":"p","type":"quantitative","scale":{"domain":[1.629958,1.785664],"nice":false,"zero":false}},"color":{"condition":{"test":"datum.k=='r'","value":"#FF2000"},"value":"#C0C0C0"}}},
{"data":{"name":"ic"},"mark":{"type":"rule","color":"#000000","strokeWidth":1},"encoding":{"x":{"field":"j","type":"quantitative","scale":{"domain":[0.75,358.25],"nice":false,"zero":false}},"y":{"field":"l","type":"quantitative","scale":{"domain":[1.629958,1.785664],"nice":false,"zero":false}},"y2":{"field":"h"}}},
{"data":{"name":"il"},"mark":{"type":"line","strokeWidth":1},"encoding":{"x":{"field":"j","type":"quantitative","scale":{"domain":[0.75,358.25],"nice":false,"zero":false}},"y":{"field":"p","type":"quantitative","scale":{"domain":[1.629958,1.785664],"nice":false,"zero":false}},"color":{"field":"s","type":"nominal","scale":{"domain":["c","k","t"],"range":["#00CED1","#0000FF","#FF0000"]},"legend":null}}},
{"data":{"values":[{"z":1}]},"mark":{"type":"rect","fillOpacity":0,"stroke":"#000000","strokeWidth":1},"encoding":{"x":{"datum":2.5,"type":"quantitative","scale":{"domain":[0.75,358.25],"nice":false,"zero":false}},"x2":{"datum":180},"y":{"datum":1.70136,"type":"quantitative","scale":{"domain":[1.629958,1.785664],"nice":false,"zero":false}},"y2":{"datum":1.63012}}},
{"data":{"values":[{"p":1.64508,"t":"1.64508","k":"b"},{"p":1.662,"t":"1.66200","k":"r"},{"p":1.659,"t":"1.65900","k":"r"},{"p":1.655,"t":"1.65500","k":"r"},{"p":1.651,"t":"1.65100","k":"r"},{"p":1.646,"t":"1.64600","k":"r"},{"p":1.632,"t":"1.63200","k":"r"}]},"mark":{"type":"tick","orient":"horizontal","size":43,"thickness":11,"opacity":1},"encoding":{"x":{"datum":191.5,"type":"quantitative","scale":{"domain":[0.75,358.25],"nice":false,"zero":false}},"y":{"field":"p","type":"quantitative","scale":{"domain":[1.629958,1.785664],"nice":false,"zero":false}},"color":{"condition":{"test":"datum.k=='r'","value":"#FF2400"},"value":"#000000"}}},
{"data":{"values":[{"p":1.662,"t":"1.66200"},{"p":1.659,"t":"1.65900"},{"p":1.655,"t":"1.65500"},{"p":1.651,"t":"1.65100"},{"p":1.646,"t":"1.64600"},{"p":1.632,"t":"1.63200"}]},"mark":{"type":"text","align":"center","baseline":"middle","color":"#ffffff","font":"DejaVu Sans","fontSize":8},"encoding":{"x":{"datum":191.5,"type":"quantitative","scale":{"domain":[0.75,358.25],"nice":false,"zero":false}},"y":{"field":"p","type":"quantitative","scale":{"domain":[1.629958,1.785664],"nice":false,"zero":false}},"text":{"field":"t"}}},
{"data":{"values":[{"t":"▼"}]},"mark":{"type":"text","align":"center","baseline":"middle","color":"#000000","font":"DejaVu Sans","fontSize":7},"encoding":{"x":{"datum":6.25,"type":"quantitative","scale":{"domain":[0.75,358.25],"nice":false,"zero":false}},"y":{"datum":1.69862,"type":"quantitative","scale":{"domain":[1.629958,1.785664],"nice":false,"zero":false}},"text":{"field":"t"}}},
{"data":{"values":[{"t":"GBPUSD,H4  1.64573 1.64594 1.64502 1.64508"}]},"mark":{"type":"text","align":"left","baseline":"middle","color":"#000000","font":"DejaVu Sans","fontSize":8},"encoding":{"x":{"datum":10.25,"type":"quantitative","scale":{"domain":[0.75,358.25],"nice":false,"zero":false}},"y":{"datum":1.69862,"type":"quantitative","scale":{"domain":[1.629958,1.785664],"nice":false,"zero":false}},"text":{"field":"t"}}},
{"data":{"values":[{"t":"FBS Trader"}]},"mark":{"type":"text","align":"left","baseline":"alphabetic","color":"#000000","font":"DejaVu Sans","fontSize":8},"encoding":{"x":{"datum":3.25,"type":"quantitative","scale":{"domain":[0.75,358.25],"nice":false,"zero":false}},"y":{"datum":1.63157,"type":"quantitative","scale":{"domain":[1.629958,1.785664],"nice":false,"zero":false}},"text":{"field":"t"}}}
]}
]
}
